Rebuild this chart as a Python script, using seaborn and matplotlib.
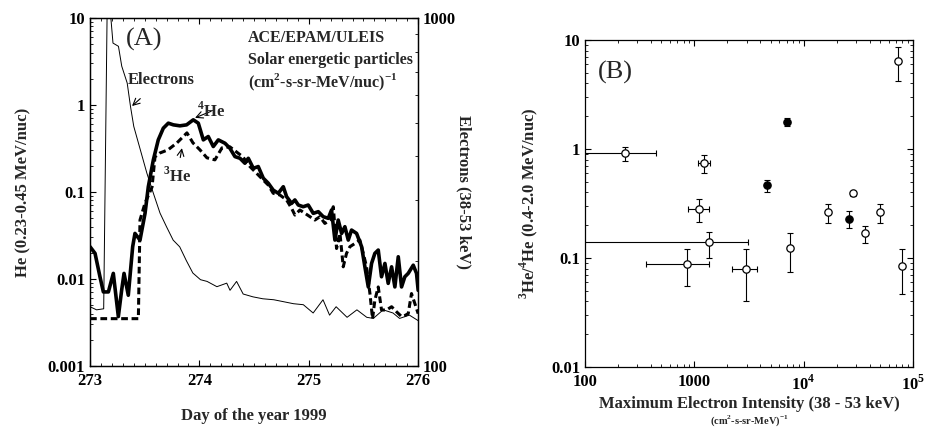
import numpy as np
import pandas as pd
import matplotlib
matplotlib.use("Agg")
import matplotlib.pyplot as plt
import matplotlib.ticker as mticker
import seaborn as sns

# ---- panel A: time profiles (day of year 1999) ----
e_day = [273.0, 273.06, 273.125, 273.16, 273.21, 273.26, 273.29, 273.34, 273.37, 273.40,
         273.46, 273.52, 273.58, 273.64, 273.70, 273.76, 273.82, 273.88, 273.94, 274.01,
         274.07, 274.16, 274.25, 274.28, 274.34, 274.40, 274.49, 274.58, 274.68, 274.77,
         274.86, 274.95, 275.04, 275.13, 275.19, 275.25, 275.35, 275.44, 275.53, 275.59,
         275.68, 275.77, 275.83, 275.92, 276.0]
e_flux = [148, 145, 146, 1300, 847, 829, 727, 650, 557, 488,
          418, 358, 313, 275, 251, 230, 220, 201, 185, 177,
          175, 169, 173, 165, 175, 161, 158, 156, 155, 153,
          151, 150, 142, 155, 140, 148, 138, 145, 138, 137,
          145, 142, 137, 140, 135]

he4_day = [273.0, 273.046, 273.091, 273.122, 273.168, 273.213, 273.259, 273.289, 273.311, 273.350,
           273.390, 273.411, 273.457, 273.503, 273.533, 273.579, 273.624, 273.670, 273.716, 273.762,
           273.822, 273.883, 273.944, 273.990, 274.036, 274.081, 274.127, 274.173, 274.234, 274.279,
           274.325, 274.371, 274.416, 274.447, 274.493, 274.538, 274.584, 274.630, 274.675, 274.721,
           274.767, 274.797, 274.843, 274.873, 274.904, 274.949, 274.995, 275.041, 275.087, 275.132,
           275.178, 275.208, 275.239, 275.269, 275.300, 275.330, 275.361, 275.391, 275.437, 275.483,
           275.513, 275.544, 275.574, 275.604, 275.635, 275.665, 275.696, 275.726, 275.757, 275.787,
           275.818, 275.848, 275.878, 275.909, 275.955, 275.985, 276.0]
he4_flux = [0.0235, 0.0197, 0.0106, 0.0071, 0.0071, 0.0116, 0.0037, 0.0074, 0.0116, 0.0065,
            0.0235, 0.0334, 0.0280, 0.0568, 0.115, 0.234, 0.397, 0.541, 0.618, 0.591,
            0.576, 0.591, 0.675, 0.618, 0.397, 0.434, 0.333, 0.397, 0.363, 0.318,
            0.255, 0.244, 0.214, 0.244, 0.187, 0.196, 0.144, 0.126, 0.105, 0.0966,
            0.115, 0.0884, 0.074, 0.081, 0.0708, 0.0677, 0.0708, 0.0568, 0.0594, 0.052,
            0.0498, 0.0621, 0.028, 0.0476, 0.0334, 0.0399, 0.028, 0.0365, 0.0334, 0.0235,
            0.0138, 0.0081, 0.0151, 0.0197, 0.0215, 0.0106, 0.0151, 0.0089, 0.0138, 0.0081,
            0.0180, 0.0081, 0.0106, 0.0116, 0.0144, 0.0116, 0.0074]

he3_day = [273.0, 273.442, 273.457, 273.503, 273.567, 273.594, 273.640, 273.713, 273.795, 273.886,
           273.941, 274.005, 274.069, 274.142, 274.206, 274.279, 274.398, 274.462, 274.523, 274.584,
           274.630, 274.675, 274.736, 274.797, 274.843, 274.873, 274.919, 274.965, 275.011, 275.056,
           275.102, 275.147, 275.193, 275.224, 275.254, 275.285, 275.315, 275.345, 275.376, 275.422,
           275.467, 275.498, 275.528, 275.559, 275.583, 275.604, 275.635, 275.665, 275.711, 275.757,
           275.802, 275.848, 275.878, 275.909, 275.939, 275.970, 276.0]
he3_flux = [0.0035, 0.0035, 0.0476, 0.0746, 0.114, 0.253, 0.281, 0.305, 0.367, 0.478,
            0.367, 0.305, 0.247, 0.234, 0.321, 0.330, 0.253, 0.196, 0.164, 0.137,
            0.120, 0.0966, 0.0923, 0.081, 0.0648, 0.0543, 0.0621, 0.0568, 0.052, 0.0476,
            0.052, 0.0435, 0.0476, 0.0677, 0.0224, 0.0334, 0.0138, 0.0197, 0.0235, 0.0256,
            0.028, 0.0197, 0.0138, 0.0068, 0.0035, 0.0057, 0.0081, 0.0044, 0.0044, 0.0048,
            0.0042, 0.0037, 0.0038, 0.0040, 0.0068, 0.0052, 0.0040]

# ---- panel B: 3He/4He vs max electron intensity ----
e_max = [231, 1216, 7050, 4624, 1104, 1352, 857, 2951, 7447, 16700, 25800, 28200, 36100, 49500, 73400, 79800]
e_lo = [50, 1081, 7050, 4624, 875, 50, 364, 2228, 7447, 16700, 25800, 28200, 36100, 49500, 73400, 79800]
e_hi = [449, 1380, 7050, 4624, 1361, 3097, 1361, 3741, 7447, 16700, 25800, 28200, 36100, 49500, 73400, 79800]
ratio = [0.91, 0.737, 1.78, 0.463, 0.284, 0.139, 0.0877, 0.080, 0.124, 0.265, 0.230, 0.391, 0.168, 0.264, 6.46, 0.0848]
ratio_lo = [0.78, 0.597, 1.62, 0.405, 0.215, 0.101, 0.0551, 0.0404, 0.0746, 0.210, 0.187, 0.37, 0.138, 0.21, 4.20, 0.0472]
ratio_hi = [1.048, 0.879, 1.91, 0.518, 0.351, 0.174, 0.120, 0.120, 0.171, 0.316, 0.271, 0.41, 0.197, 0.31, 8.69, 0.120]
filled = [False, False, True, True, False, False, False, False, False, False, True, False, False, False, False, False]

sns.set_style("ticks")
plt.rcParams['font.family'] = ['Liberation Serif', 'DejaVu Serif']
plt.rcParams['font.weight'] = 'bold'
plt.rcParams['axes.labelweight'] = 'bold'
plt.rcParams['mathtext.fontset'] = 'custom'
plt.rcParams['mathtext.rm'] = 'Liberation Serif:bold'
plt.rcParams['mathtext.bf'] = 'Liberation Serif:bold'
for a in ('xtick', 'ytick'):
    plt.rcParams[a + '.direction'] = 'in'
    plt.rcParams[a + '.major.size'] = 4
    plt.rcParams[a + '.minor.size'] = 2
    plt.rcParams[a + '.major.width'] = 0.8
    plt.rcParams[a + '.minor.width'] = 0.6
    plt.rcParams[a + '.labelsize'] = 12
    plt.rcParams[a + '.color'] = 'black'
plt.rcParams['axes.linewidth'] = 0.9
plt.rcParams['axes.edgecolor'] = 'black'

fig = plt.figure(figsize=(9.27, 4.32), dpi=100)
axA = fig.add_axes([0.0971, 0.1528, 0.354, 0.8056])
axE = axA.twinx()
axB = fig.add_axes([0.631, 0.1505, 0.354, 0.757])

# panel A
sns.lineplot(x=he4_day, y=he4_flux, ax=axA, color='black', lw=2.6, estimator=None, sort=False)
sns.lineplot(x=he3_day, y=he3_flux, ax=axA, color='black', lw=2.2, estimator=None, sort=False,
             linestyle=(0, (2.2, 1.2)))
sns.lineplot(x=e_day, y=e_flux, ax=axE, color='black', lw=0.7, estimator=None, sort=False)

axA.set_yscale('log')
axA.set_ylim(0.001, 10)
axA.set_xlim(273, 276)
axE.set_yscale('log')
axE.set_ylim(100, 1000)

axA.xaxis.set_major_locator(mticker.FixedLocator([273, 274, 275, 276]))
axA.xaxis.set_minor_locator(mticker.MultipleLocator(0.1))
axA.yaxis.set_major_locator(mticker.FixedLocator([0.001, 0.01, 0.1, 1, 10]))
axA.yaxis.set_major_formatter(mticker.FixedFormatter(['0.001', '0.01', '0.1', '1', '10']))
axA.yaxis.set_minor_locator(mticker.LogLocator(subs=np.arange(2, 10)))
axA.yaxis.set_minor_formatter(mticker.NullFormatter())
axE.yaxis.set_major_locator(mticker.FixedLocator([100, 1000]))
axE.yaxis.set_major_formatter(mticker.FixedFormatter(['100', '1000']))
axE.yaxis.set_minor_locator(mticker.LogLocator(subs=np.arange(2, 10)))
axE.yaxis.set_minor_formatter(mticker.NullFormatter())
axA.tick_params(which='both', top=True, right=False)
axE.tick_params(which='both', direction='in')
axA.tick_params(axis='x', pad=5)

axA.set_xlabel('Day of the year 1999', fontsize=12, labelpad=14)
axA.set_ylabel('He (0.23-0.45 MeV/nuc)', fontsize=12, labelpad=12)
axE.set_ylabel('Electrons (38-53 keV)', fontsize=12, rotation=270, labelpad=11)

axA.text(0.165, 0.937, '(A)', transform=axA.transAxes, fontsize=19, fontweight='normal',
         ha='center', va='center')
axA.text(0.482, 0.943, 'ACE/EPAM/ULEIS', transform=axA.transAxes, fontsize=11.5, va='center')
axA.text(0.482, 0.879, 'Solar energetic particles', transform=axA.transAxes, fontsize=11.5, va='center')
axA.text(0.482, 0.816, '(cm$^{2}$-s-sr-MeV/nuc)$^{-1}$', transform=axA.transAxes, fontsize=11.5, va='center')
axA.annotate('Electrons', xy=(0.128, 0.747), xytext=(0.115, 0.822), textcoords='axes fraction',
             xycoords='axes fraction', fontsize=12, va='center',
             arrowprops=dict(arrowstyle='->', lw=0.8, color='black', shrinkA=8, shrinkB=0))
axA.annotate('$^{4}$He', xy=(0.320, 0.713), xytext=(0.326, 0.732), textcoords='axes fraction',
             xycoords='axes fraction', fontsize=12, va='center',
             arrowprops=dict(arrowstyle='->', lw=0.8, color='black', shrinkA=0, shrinkB=0))
axA.annotate('$^{3}$He', xy=(0.280, 0.626), xytext=(0.222, 0.546), textcoords='axes fraction',
             xycoords='axes fraction', fontsize=12, va='center',
             arrowprops=dict(arrowstyle='->', lw=0.8, color='black', shrinkA=4, shrinkB=0))

# panel B
x = np.array(e_max)
y = np.array(ratio)
axB.errorbar(x, y,
             xerr=[x - np.array(e_lo), np.array(e_hi) - x],
             yerr=[y - np.array(ratio_lo), np.array(ratio_hi) - y],
             fmt='none', ecolor='black', elinewidth=0.8, capsize=2, capthick=0.8)
dfB = pd.DataFrame({'e_max': e_max, 'ratio': ratio, 'filled': filled})
sns.scatterplot(data=dfB[~dfB['filled']], x='e_max', y='ratio', ax=axB, s=28, marker='o',
                facecolor='white', edgecolor='black', linewidth=0.9, zorder=3)
sns.scatterplot(data=dfB[dfB['filled']], x='e_max', y='ratio', ax=axB, s=28, marker='o',
                color='black', edgecolor='black', linewidth=0.9, zorder=3)
axB.set_xscale('log')
axB.set_yscale('log')
axB.set_xlim(100, 1e5)
axB.set_ylim(0.01, 10)
axB.xaxis.set_major_locator(mticker.FixedLocator([100, 1000, 1e4, 1e5]))
axB.xaxis.set_major_formatter(mticker.FixedFormatter(['100', '1000', '10$^{4}$', '10$^{5}$']))
axB.xaxis.set_minor_locator(mticker.LogLocator(subs=np.arange(2, 10)))
axB.xaxis.set_minor_formatter(mticker.NullFormatter())
axB.yaxis.set_major_locator(mticker.FixedLocator([0.01, 0.1, 1, 10]))
axB.yaxis.set_major_formatter(mticker.FixedFormatter(['0.01', '0.1', '1', '10']))
axB.yaxis.set_minor_locator(mticker.LogLocator(subs=np.arange(2, 10)))
axB.yaxis.set_minor_formatter(mticker.NullFormatter())
axB.tick_params(which='both', top=True, right=True)
axB.tick_params(axis='x', pad=5)
axB.set_xlabel('Maximum Electron Intensity (38 - 53 keV)', fontsize=12, labelpad=2)
axB.set_ylabel('$^{3}$He/$^{4}$He (0.4-2.0 MeV/nuc)', fontsize=12, labelpad=8)
axB.text(0.5, -0.165, '(cm$^{2}$-s-sr-MeV)$^{-1}$', transform=axB.transAxes, fontsize=7.5,
         ha='center', va='center')
axB.text(0.04, 0.902, '(B)', transform=axB.transAxes, fontsize=19, fontweight='normal', va='center')

fig.savefig('out.png', dpi=100)
